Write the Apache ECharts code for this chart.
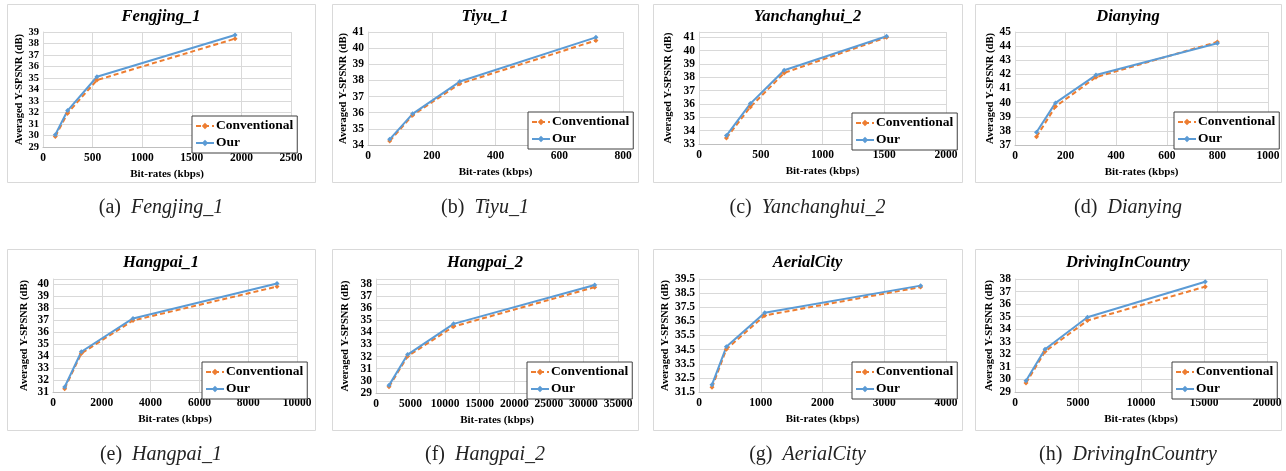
<!DOCTYPE html>
<html>
<head>
<meta charset="utf-8">
<script src="https://cdn.jsdelivr.net/npm/echarts@6/dist/echarts.min.js"></script>
<style>
html, body { margin: 0; padding: 0; background: #fff; }
#main { width: 1286px; height: 471px; }
</style>
</head>
<body>
<div id="main"></div>
<script>
var seqNames = ['Fengjing_1', 'Tiyu_1', 'Yanchanghui_2', 'Dianying', 'Hangpai_1', 'Hangpai_2', 'AerialCity', 'DrivingInCountry'];
var seqLetters = ['a', 'b', 'c', 'd', 'e', 'f', 'g', 'h'];

// bit-rates (kbps) and Y-SPSNR (dB)
var fengjingRate = [124, 248, 544, 1936];
var fengjingConv = [29.92, 31.94, 34.82, 38.42];
var fengjingOur  = [30.07, 32.17, 35.11, 38.74];

var tiyuRate = [68, 140, 288, 715];
var tiyuConv = [34.25, 35.85, 37.79, 40.48];
var tiyuOur  = [34.35, 35.93, 37.93, 40.67];

var yanchangRate = [222, 416, 690, 1519];
var yanchangConv = [33.45, 35.78, 38.33, 41.0];
var yanchangOur  = [33.63, 36.03, 38.53, 41.08];

var dianyingRate = [85, 160, 320, 800];
var dianyingConv = [37.59, 39.72, 41.8, 44.3];
var dianyingOur  = [37.9, 39.98, 41.95, 44.2];

var hangpai1Rate = [478, 1161, 3279, 9180];
var hangpai1Conv = [31.28, 34.21, 36.95, 39.77];
var hangpai1Our  = [31.42, 34.35, 37.12, 40.02];

var hangpai2Rate = [1878, 4574, 11218, 31632];
var hangpai2Conv = [29.52, 32.03, 34.48, 37.73];
var hangpai2Our  = [29.63, 32.17, 34.7, 37.9];

var aerialRate = [211, 443, 1065, 3589];
var aerialConv = [31.83, 34.53, 36.92, 38.93];
var aerialOur  = [32.02, 34.7, 37.11, 39.03];

var drivingRate = [874, 2384, 5748, 15099];
var drivingConv = [29.71, 32.23, 34.69, 37.39];
var drivingOur  = [29.9, 32.41, 34.95, 37.78];

var rateList = [fengjingRate, tiyuRate, yanchangRate, dianyingRate, hangpai1Rate, hangpai2Rate, aerialRate, drivingRate];
var convList = [fengjingConv, tiyuConv, yanchangConv, dianyingConv, hangpai1Conv, hangpai2Conv, aerialConv, drivingConv];
var ourList  = [fengjingOur, tiyuOur, yanchangOur, dianyingOur, hangpai1Our, hangpai2Our, aerialOur, drivingOur];

// axis ranges / ticks
var xMax  = [2500, 800, 2000, 1000, 10000, 35000, 4000, 20000];
var xStep = [500, 200, 500, 200, 2000, 5000, 1000, 5000];
var yMin  = [29, 34, 33, 37, 31, 29, 31.5, 29];
var yMax  = [39, 41, 41.4, 45, 40.4, 38.4, 39.5, 38];
var yStep = 1;

// layout (px)
var frames = [[7, 4, 308, 178], [332, 4, 306, 178], [653, 4, 309, 178], [975, 4, 306, 178],
              [7, 249, 308, 181], [332, 249, 306, 181], [653, 249, 309, 181], [975, 249, 306, 181]];
var grids = [[43, 32, 248, 115], [368, 32, 255, 113], [699, 32, 247, 112], [1015, 32, 253, 113],
             [53, 279, 244, 113], [376, 279, 242, 114], [699, 279, 247, 113], [1015, 279, 252, 113]];
var yNameGaps = [18, 16, 25, 18.5, 23.5, 25, 27.5, 20.5];
var yLabelSize = [10.5, 11.5, 11.5, 11.5, 11.5, 11.5, 11.5, 11.5];
var legendPos = [[192, 116], [528, 112], [852, 113], [1174, 112],
                 [202, 362], [527, 362], [852, 362], [1172, 362]];

var serif = '"Liberation Serif", "Times New Roman", serif';
var orange = '#ED7D31', blue = '#5B9BD5', gridGray = '#d9d9d9';

var option = {
    backgroundColor: '#fff',
    animation: false,
    title: [], grid: [], xAxis: [], yAxis: [], legend: [], series: [],
    graphic: []
};

for (var i = 0; i < 8; i++) {
    var f = frames[i], g = grids[i];
    var cx = f[0] + f[2] / 2;
    var row2 = i >= 4;

    option.graphic.push({
        type: 'rect', silent: true, z: -1,
        shape: { x: f[0] + 0.5, y: f[1] + 0.5, width: f[2], height: f[3] },
        style: { fill: '#fff', stroke: gridGray, lineWidth: 1 }
    });

    option.title.push({
        text: seqNames[i], left: cx, top: row2 ? 254 : 8, textAlign: 'center', padding: 0,
        textStyle: { fontFamily: serif, fontSize: 16.5, fontWeight: 'bold', fontStyle: 'italic', color: '#000' }
    });
    option.title.push({
        text: '(' + seqLetters[i] + ')  {i|' + seqNames[i] + '}',
        left: cx, top: row2 ? 445 : 198, textAlign: 'center', padding: 0,
        textStyle: {
            fontFamily: serif, fontSize: 20, fontWeight: 'normal', color: '#222',
            rich: { i: { fontFamily: serif, fontSize: 20, fontStyle: 'italic', color: '#222' } }
        }
    });

    option.grid.push({ left: g[0], top: g[1], width: g[2], height: g[3] });

    option.xAxis.push({
        type: 'value', gridIndex: i, min: 0, max: xMax[i], interval: xStep[i],
        name: 'Bit-rates (kbps)', nameLocation: 'middle', nameGap: 22,
        nameTextStyle: { fontFamily: serif, fontSize: 11, fontWeight: 'bold', color: '#000' },
        axisLine: { show: true, lineStyle: { color: '#bfbfbf', width: 1 } },
        axisTick: { show: false },
        axisLabel: {
            margin: 5, fontFamily: serif, fontSize: 11.5, fontWeight: 'bold', color: '#000',
            showMinLabel: true, showMaxLabel: true,
            formatter: function (v) { return String(v); }
        },
        splitLine: { show: true, lineStyle: { color: gridGray, width: 1 } }
    });

    (function (mn) {
        option.yAxis.push({
            type: 'value', gridIndex: i, min: mn, max: yMax[i], interval: yStep,
            name: 'Averaged Y-SPSNR (dB)', nameLocation: 'middle', nameGap: yNameGaps[i],
            nameTextStyle: { fontFamily: serif, fontSize: 10.5, fontWeight: 'bold', color: '#000' },
            axisLine: { show: true, lineStyle: { color: gridGray, width: 1 } },
            axisTick: { show: false },
            axisLabel: {
                margin: 4, fontFamily: serif, fontSize: yLabelSize[i], fontWeight: 'bold', color: '#000',
                showMinLabel: true, showMaxLabel: true, hideOverlap: false,
                formatter: function (v) {
                    var k = (v - mn) / yStep;
                    return Math.abs(k - Math.round(k)) < 1e-6 ? String(v) : '';
                }
            },
            splitLine: { show: true, lineStyle: { color: gridGray, width: 1 } }
        });
    })(yMin[i]);

    option.legend.push({
        orient: 'vertical', left: legendPos[i][0], top: legendPos[i][1],
        data: ['Conventional', 'Our'], selectedMode: false,
        itemWidth: 18, itemHeight: 8, itemGap: 3, padding: [3, 4, 3, 3],
        borderColor: '#404040', borderWidth: 1, backgroundColor: '#fff',
        textStyle: { fontFamily: serif, fontSize: 13.5, fontWeight: 'bold', color: '#000', padding: [0, 0, 0, -3] }
    });

    var rates = rateList[i];
    option.series.push({
        name: 'Conventional', type: 'line', xAxisIndex: i, yAxisIndex: i,
        data: rates.map(function (r, k) { return [r, convList[i][k]]; }),
        symbol: 'diamond', symbolSize: 5,
        lineStyle: { color: orange, width: 2, type: [5, 3] },
        itemStyle: { color: orange }
    });
    option.series.push({
        name: 'Our', type: 'line', xAxisIndex: i, yAxisIndex: i,
        data: rates.map(function (r, k) { return [r, ourList[i][k]]; }),
        symbol: 'diamond', symbolSize: 5,
        lineStyle: { color: blue, width: 2, type: 'solid' },
        itemStyle: { color: blue }
    });
}

var myChart = echarts.init(document.getElementById('main'));
myChart.setOption(option);
</script>
</body>
</html>
